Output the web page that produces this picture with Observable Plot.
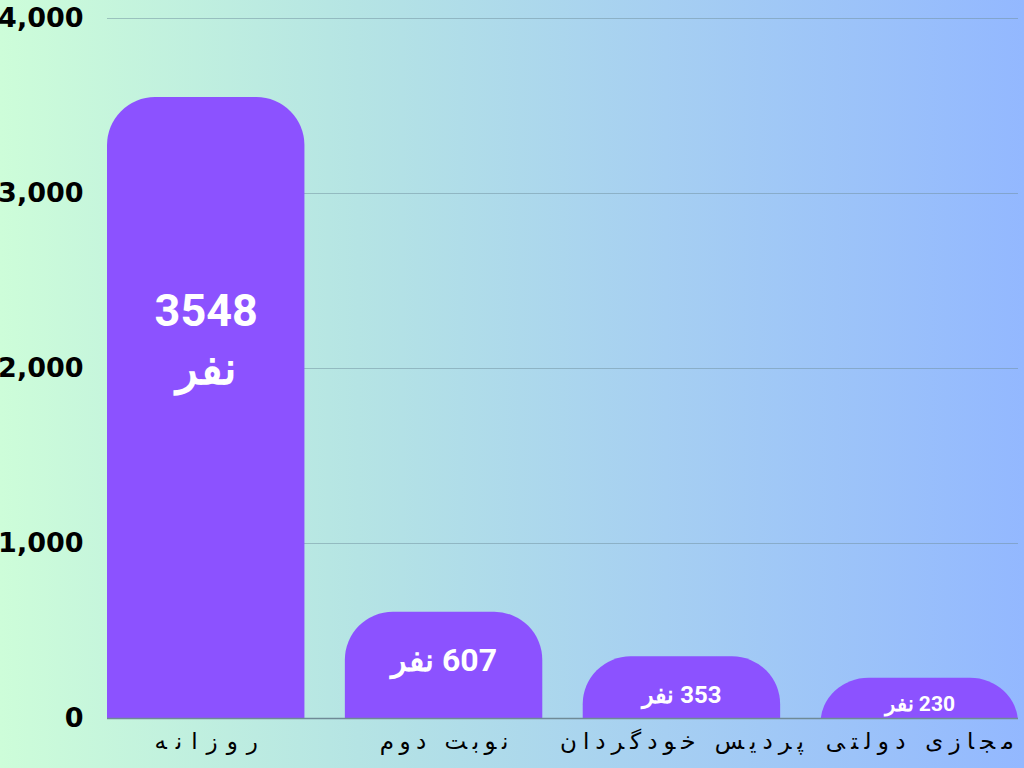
<!DOCTYPE html>
<html>
<head>
<meta charset="utf-8">
<script src="https://cdn.jsdelivr.net/npm/d3@7"></script>
<script src="https://cdn.jsdelivr.net/npm/@observablehq/plot@0.6"></script>
<style>
  html, body { margin: 0; padding: 0; }
  body {
    width: 1024px; height: 768px; overflow: hidden;
    background: linear-gradient(to right, #cdfdd9 0%, #b5e4e4 35%, #a6cff2 65%, #93b8ff 100%);
  }
  #chart svg { display: block; background: transparent; }
</style>
</head>
<body>
<div id="chart"></div>
<script>
// ---- data ----
const categories = ["روزانه", "نوبت دوم", "پردیس خودگردان", "مجازی دولتی"];
const values = [3548, 607, 353, 230];
const unit = "نفر";
const yTicks = [0, 1000, 2000, 3000, 4000];

// ---- styles ----
const labelFontSizes = [45, 32, 24, 21];
const labelDy = [-72, -8, 5, 4];
const cornerR = 48;                       // px
const xLabelTracking = [9, 5.5, 6, 6.3];  // px between glyphs of each x label

const data = categories.map((c, i) => ({
  category: c,
  value: values[i],
  label: i === 0 ? `${values[i]}\n${unit}` : "\u200F" + `${values[i]} ${unit}`,
  size: labelFontSizes[i],
  dy: labelDy[i]
}));

const purple = "#8c52ff";
const pxPerUnit = (768 - 18 - 50) / 4000;
const overshoot = cornerR / pxPerUnit + 10;

const marks = [
  Plot.gridY(yTicks.filter(t => t > 0), {stroke: "#6f8f9e", strokeOpacity: 0.5, strokeWidth: 1.2}),
  Plot.rectY(data, {x: "category", y1: -overshoot, y2: "value", fill: purple, rx: cornerR, ry: cornerR, clip: true}),
  Plot.ruleY([0], {stroke: "#6f8a96", strokeWidth: 1.5}),
  Plot.axisY({ticks: yTicks, tickFormat: d3.format(","), tickSize: 0, tickPadding: 24,
    fontSize: 27, fontWeight: 700, fill: "#000", label: null, fontFamily: "DejaVu Sans"}),
  Plot.axisX({tickSize: 0, tickPadding: 14, fontSize: 23, fill: "#000", label: null,
    fontFamily: "DejaVu Sans"})
];

data.forEach(d => {
  marks.push(Plot.text([d], {
    x: "category", y: d => d.value / 2, text: "label",
    fill: "white", fontSize: d.size, fontWeight: 700, dy: d.dy, lineHeight: 1.3,
    fontFamily: "Roboto"
  }));
});

const chart = Plot.plot({
  width: 1024,
  height: 768,
  marginLeft: 107,
  marginRight: 6,
  marginTop: 18,
  marginBottom: 50,
  style: {background: "transparent", overflow: "visible"},
  x: {type: "band", domain: categories, paddingInner: 0.17, paddingOuter: 0, round: false, label: null},
  y: {domain: [0, 4000], label: null},
  marks
});

document.getElementById("chart").appendChild(chart);

// spread the glyphs of the x labels (letter-spacing is ignored for Arabic)
chart.querySelectorAll("g[aria-label='x-axis tick label'] text").forEach(t => {
  const i = categories.indexOf(t.textContent);
  const n = [...t.textContent].length;
  const w = t.getComputedTextLength();
  t.setAttribute("textLength", w + (xLabelTracking[i] ?? 6) * (n - 1));
  t.setAttribute("lengthAdjust", "spacing");
});
</script>
</body>
</html>
